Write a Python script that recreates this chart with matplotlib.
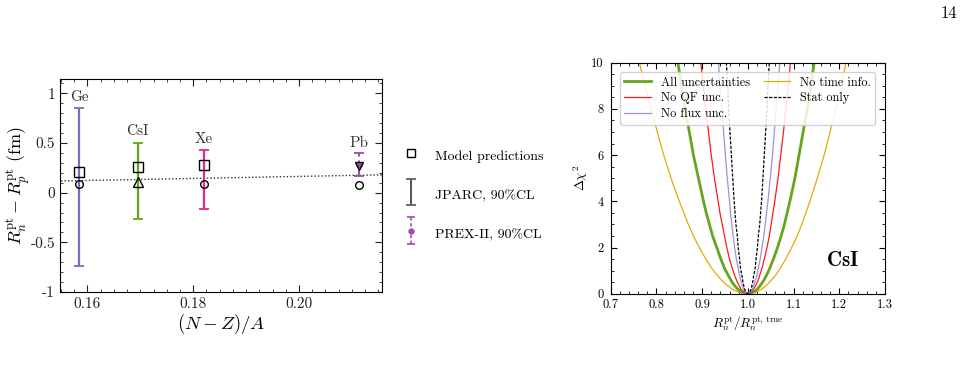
import matplotlib
matplotlib.use("Agg")
import matplotlib.pyplot as plt
import numpy as np
from matplotlib.ticker import MultipleLocator
from matplotlib.lines import Line2D
from matplotlib.legend_handler import HandlerErrorbar

plt.rcParams['font.family'] = ['cmr10', 'DejaVu Serif']
plt.rcParams['mathtext.fontset'] = 'cm'
plt.rcParams['axes.unicode_minus'] = False
plt.rcParams['axes.formatter.use_mathtext'] = True

# ---------------- Left panel data ----------------
targets = ["Ge", "CsI", "Xe", "Pb"]
target_x = [0.1584, 0.1695, 0.1820, 0.2113]
label_y = [0.96, 0.62, 0.54, 0.495]

jparc_x = [0.1584, 0.1695, 0.1820]
jparc_lo = [-0.737, -0.266, -0.165]
jparc_hi = [0.855, 0.505, 0.434]
jparc_colors = ["#7570b3", "#66a61e", "#e7298a"]

model_sq_x = [0.1584, 0.1695, 0.1820]
model_sq_y = [0.21, 0.26, 0.28]
model_circ_x = [0.1584, 0.1820, 0.2113]
model_circ_y = [0.09, 0.085, 0.077]
model_tri_x = [0.1695]
model_tri_y = [0.11]
model_tridown_x = [0.2113]
model_tridown_y = [0.27]

prex_x = [0.2113]
prex_c = [0.283]
prex_lo = [0.166]
prex_hi = [0.400]

fit_x = [0.155, 0.2157]
fit_y = [0.118, 0.180]

# ---------------- Right panel data ----------------
dchi2_levels = [0.02, 0.05, 0.1, 0.2, 0.35, 0.55, 0.8, 1.1, 1.5, 2, 2.5, 3, 3.5, 4, 5, 6, 7, 8, 9, 10]
min_x = 1.0
curves = {
    "All uncertainties": dict(
        left=[0.993, 0.989, 0.985, 0.978, 0.971, 0.964, 0.957, 0.949, 0.941, 0.932,
              0.923, 0.916, 0.909, 0.903, 0.892, 0.881, 0.872, 0.863, 0.855, 0.847],
        right=[1.006, 1.010, 1.015, 1.021, 1.027, 1.034, 1.041, 1.048, 1.056, 1.065,
               1.073, 1.080, 1.086, 1.092, 1.103, 1.112, 1.121, 1.130, 1.138, 1.145]),
    "No QF unc.": dict(
        left=[0.995, 0.993, 0.990, 0.985, 0.981, 0.976, 0.971, 0.966, 0.960, 0.954,
              0.949, 0.944, 0.939, 0.935, 0.927, 0.920, 0.914, 0.908, 0.903, 0.897],
        right=[1.004, 1.007, 1.009, 1.013, 1.017, 1.022, 1.026, 1.031, 1.036, 1.042,
               1.047, 1.051, 1.055, 1.059, 1.066, 1.072, 1.078, 1.083, 1.089, 1.093]),
    "No flux unc.": dict(
        left=[0.997, 0.995, 0.994, 0.991, 0.988, 0.985, 0.982, 0.979, 0.975, 0.971,
              0.968, 0.965, 0.962, 0.960, 0.955, 0.951, 0.947, 0.943, 0.939, 0.936],
        right=[1.003, 1.005, 1.007, 1.010, 1.013, 1.016, 1.020, 1.023, 1.027, 1.031,
               1.035, 1.038, 1.041, 1.044, 1.049, 1.054, 1.058, 1.062, 1.066, 1.070]),
    "No time info.": dict(
        left=[0.989, 0.983, 0.976, 0.966, 0.956, 0.944, 0.933, 0.921, 0.908, 0.894,
              0.881, 0.870, 0.860, 0.850, 0.832, 0.816, 0.802, 0.788, 0.775, 0.763],
        right=[1.010, 1.015, 1.022, 1.030, 1.040, 1.050, 1.061, 1.071, 1.083, 1.096,
               1.108, 1.118, 1.127, 1.136, 1.152, 1.167, 1.180, 1.192, 1.204, 1.215]),
    "Stat only": dict(
        left=[0.998, 0.997, 0.995, 0.993, 0.991, 0.989, 0.987, 0.984, 0.982, 0.979,
              0.977, 0.974, 0.972, 0.970, 0.967, 0.964, 0.961, 0.958, 0.956, 0.953],
        right=[1.002, 1.003, 1.005, 1.007, 1.009, 1.011, 1.013, 1.016, 1.018, 1.021,
               1.023, 1.026, 1.028, 1.030, 1.033, 1.036, 1.039, 1.042, 1.044, 1.047]),
}
curve_styles = {
    "All uncertainties": dict(color="#66a61e", lw=2.0, ls="-"),
    "No QF unc.": dict(color="#ff1a1a", lw=0.9, ls="-"),
    "No flux unc.": dict(color="#9a96cc", lw=0.9, ls="-"),
    "No time info.": dict(color="#e6ab02", lw=0.9, ls="-"),
    "Stat only": dict(color="black", lw=0.9, ls=(0, (2.5, 1.2))),
}
legend_order = ["All uncertainties", "No QF unc.", "No flux unc.", "No time info.", "Stat only"]

fig = plt.figure(figsize=(9.64, 3.67), dpi=100)

# ---------------- Left panel ----------------
ax = fig.add_axes([0.0622, 0.2044, 0.3341, 0.5803])
ax.plot(fit_x, fit_y, ls=(0, (1, 1.5)), color="#333333", lw=1.0, zorder=1)
for x, lo, hi, c in zip(jparc_x, jparc_lo, jparc_hi, jparc_colors):
    mid = (lo + hi) / 2
    half = (hi - lo) / 2
    ax.errorbar([x], [mid], yerr=[half], fmt='none', ecolor=c, elinewidth=1.6,
                capsize=3.5, capthick=1.3, zorder=2)
prex_err = [[c - lo for c, lo in zip(prex_c, prex_lo)], [hi - c for c, hi in zip(prex_c, prex_hi)]]
eb = ax.errorbar(prex_x, prex_c, yerr=prex_err, fmt='o', color="#984ea3", ms=3.5,
                 elinewidth=1.4, capsize=3.5, capthick=1.3, zorder=3)
eb[2][0].set_linestyle((0, (3, 2)))
ax.plot(model_sq_x, model_sq_y, 's', mfc='none', mec='black', ms=6.5, mew=1.0, zorder=4)
ax.plot(model_circ_x, model_circ_y, 'o', mfc='none', mec='black', ms=5.5, mew=1.0, zorder=4)
ax.plot(model_tri_x, model_tri_y, '^', mfc='none', mec='black', ms=6.5, mew=1.0, zorder=4)
ax.plot(model_tridown_x, model_tridown_y, 'v', mfc='none', mec='black', ms=6.0, mew=1.0, zorder=4)
for t, x, y in zip(targets, target_x, label_y):
    ax.text(x, y, t, ha='center', va='center', fontsize=11, color='#333333')
ax.set_xlim(0.1548, 0.2157)
ax.set_ylim(-1, 1.145)
ax.xaxis.set_minor_locator(MultipleLocator(0.0025))
ax.yaxis.set_minor_locator(MultipleLocator(0.1))
ax.set_xticks([0.16, 0.18, 0.20])
ax.set_xticklabels(["0.16", "0.18", "0.20"])
ax.set_yticks([-1, -0.5, 0, 0.5, 1])
ax.set_yticklabels(["-1", "-0.5", "0", "0.5", "1"])
ax.tick_params(which='both', direction='in', top=True, right=True, labelsize=11, colors='#222222')
ax.tick_params(which='major', length=5)
ax.tick_params(which='minor', length=2.5)
ax.set_xlabel(r"$(N-Z)/A$", fontsize=13.5, labelpad=1)
ax.set_ylabel(r"$R_n^{\rm pt}-R_p^{\rm pt}$ (fm)", fontsize=13, labelpad=-2)

# legend handles for left panel (dummy artists with NaN data, never visible)
h_model = Line2D([], [], ls='none', marker='s', mfc='none', mec='black', ms=5.5, mew=1.0)
h_jparc = ax.errorbar([np.nan], [np.nan], yerr=[1.0], fmt='none', ecolor='#555555',
                      elinewidth=1.4, capsize=3.5, capthick=1.2)
h_prex = ax.errorbar([np.nan], [np.nan], yerr=[1.0], fmt='o', color="#984ea3", ms=3.5,
                     elinewidth=1.2, capsize=3, capthick=1.2)
h_prex[2][0].set_linestyle((0, (2, 1.5)))
fig.legend([h_model, h_jparc, h_prex],
           ["Model predictions", "JPARC, 90%CL", "PREX-II, 90%CL"],
           loc='center left', bbox_to_anchor=(0.404, 0.469), frameon=False,
           fontsize=10, labelspacing=1.25, handlelength=1.3, handleheight=2.0,
           handletextpad=1.1,
           handler_map={type(h_jparc): HandlerErrorbar(xerr_size=0.5, yerr_size=0.95)})

# ---------------- Right panel ----------------
ax2 = fig.add_axes([0.6335, 0.1997, 0.2845, 0.6295])
for name in ["No time info.", "All uncertainties", "No QF unc.", "No flux unc.", "Stat only"]:
    d = curves[name]
    xs = d["left"][::-1] + [min_x] + d["right"]
    ys = dchi2_levels[::-1] + [0] + dchi2_levels
    st = curve_styles[name]
    ax2.plot(xs, ys, color=st["color"], lw=st["lw"], ls=st["ls"], label=name)
handles, labels = ax2.get_legend_handles_labels()
hmap = dict(zip(labels, handles))
ax2.legend([hmap[n] for n in legend_order], legend_order, loc='upper center',
           ncol=2, fontsize=8.8, frameon=True, fancybox=True, framealpha=0.85,
           edgecolor='#cccccc', handlelength=2.2, columnspacing=1.1,
           labelspacing=0.3, borderpad=0.35, handletextpad=0.8,
           bbox_to_anchor=(0.5, 0.985))
ax2.text(1.208, 1.43, r"$\mathbf{CsI}$", ha='center', va='center', fontsize=15)
ax2.set_xlim(0.7, 1.3)
ax2.set_ylim(0, 10)
ax2.xaxis.set_minor_locator(MultipleLocator(0.02))
ax2.yaxis.set_minor_locator(MultipleLocator(0.5))
ax2.tick_params(which='both', direction='in', top=True, right=True, labelsize=9)
ax2.tick_params(axis='x', pad=4)
ax2.tick_params(axis='y', pad=5)
ax2.tick_params(which='major', length=4.5)
ax2.tick_params(which='minor', length=2.2)
ax2.set_xticks([0.7, 0.8, 0.9, 1.0, 1.1, 1.2, 1.3])
ax2.set_xticklabels(["0.7", "0.8", "0.9", "1.0", "1.1", "1.2", "1.3"])
ax2.set_yticks([0, 2, 4, 6, 8, 10])
ax2.set_yticklabels(["0", "2", "4", "6", "8", "10"])
ax2.set_xlabel(r"$R_n^{\rm pt}/R_n^{\rm pt,\,true}$", fontsize=9.5, labelpad=2)
ax2.set_ylabel(r"$\Delta\chi^2$", fontsize=9.5, labelpad=1)

fig.text(0.993, 0.965, "14", ha='right', va='center', fontsize=12)

fig.savefig("out.png", dpi=100)
